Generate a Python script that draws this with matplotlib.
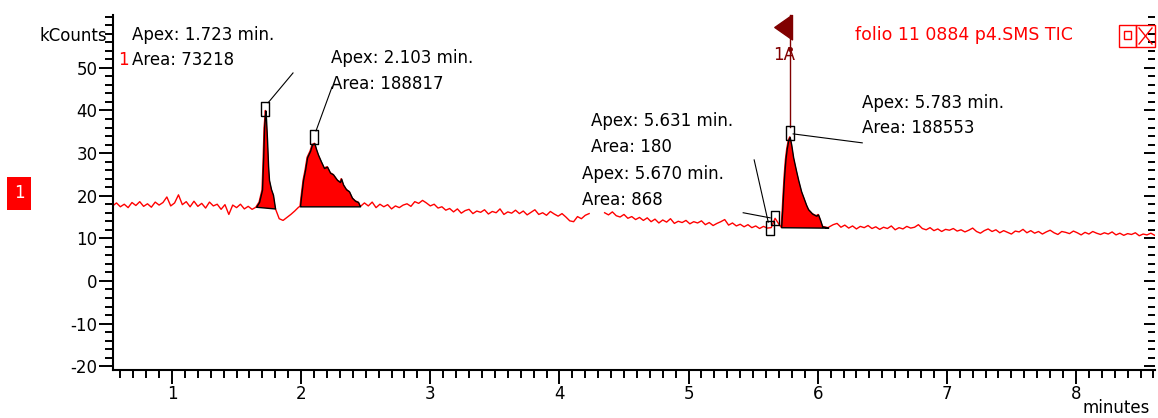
import numpy as np
import matplotlib
matplotlib.use("Agg")
import matplotlib.pyplot as plt
from matplotlib.ticker import MultipleLocator, FixedLocator
from matplotlib.patches import Rectangle
from matplotlib.lines import Line2D

# baseline TIC trace, kCounts, sampled every 0.03 min from 0.54 min
# (values under the peak windows are hidden by the peak lists below)
t_start = 0.54
t_step = 0.03
baseline = [
    17.6, 18.3, 17.4, 18.0, 17.2, 18.4, 17.7, 18.6, 17.5, 18.1,
    17.3, 18.5, 17.8, 18.4, 19.7, 17.6, 18.3, 20.2, 17.9, 18.6,
    17.4, 18.7, 17.5, 18.2, 17.1, 18.5, 17.6, 18.0, 16.8, 17.9,
    15.6, 17.8, 17.2, 18.0, 16.9, 17.5, 16.8,
    17.3, 17.4, 17.4, 17.4, 17.4, 17.0,
    14.6, 14.2, 14.9, 15.6, 16.4, 17.3,
    17.5, 17.5, 17.5, 17.5, 17.5, 17.5, 17.5, 17.5,
    17.5, 17.5, 17.5, 17.5, 17.5, 17.5, 17.5, 17.5,
    18.3, 17.6, 18.5, 17.2, 18.0, 17.4, 17.9, 16.9, 17.6, 17.2,
    17.8, 18.1, 17.5, 18.6, 18.2, 18.9, 18.3, 17.6, 18.0, 17.1,
    17.4, 16.6, 17.0, 16.2, 16.9, 15.9, 16.5, 16.8, 15.8, 16.4,
    16.1, 16.7, 15.7, 16.3, 16.0, 16.9, 15.6, 16.2, 15.9, 16.6,
    15.8, 16.4, 15.5, 16.1, 16.7, 15.6, 16.0, 15.4, 16.3, 15.7,
    15.2, 15.8, 15.0, 14.1, 13.9, 15.1, 14.6, 15.4, 15.8,
    np.nan, np.nan, np.nan,
    16.0, 15.5, 16.2, 15.3, 15.0, 15.6, 14.7, 15.1, 14.4, 14.9,
    14.2, 14.8, 13.9, 14.5, 13.6, 14.3, 13.8, 14.6, 13.5, 14.0,
    13.7, 14.2, 13.4, 13.9, 13.6, 14.1, 13.2, 13.7, 13.0, 13.5,
    13.9, 14.4, 13.1, 13.6, 12.9, 13.3, 12.7, 13.2, 12.5, 12.9, 12.3, 12.8, 12.4,
    12.5, 14.7, 13.3,
    12.5, 12.5, 12.5, 12.5, 12.5, 12.5, 12.5, 12.5, 12.5, 12.5, 12.5, 12.5,
    12.7, 13.2,
    13.5, 12.6, 13.1, 12.4, 12.9, 12.2, 12.8, 12.5, 13.0, 12.3,
    12.7, 12.1, 12.6, 12.3, 12.9, 12.0, 12.5, 12.2, 12.8, 12.4,
    12.6, 13.2, 12.3, 12.0, 12.5, 11.8, 12.2, 11.6, 12.1, 11.9,
    12.3, 11.7, 12.0, 11.5, 11.9, 12.4, 11.6, 11.2, 11.8, 12.2,
    11.6, 12.0, 11.3, 11.8, 11.4, 11.0, 11.7, 11.5, 12.1, 11.3,
    11.8, 11.2, 11.6, 11.0, 11.5, 11.9, 11.3, 10.9, 11.6, 11.4,
    11.1, 11.7, 11.3, 10.8, 11.4, 11.0, 11.6, 11.2, 10.9, 11.3,
    11.0, 11.5, 10.8, 11.2, 10.7, 11.1, 10.9, 11.3, 10.6, 11.0, 10.8, 11.2, 10.7,
]

# integrated peaks (time in min, kCounts)
peak1_t = [1.651, 1.674, 1.697, 1.705, 1.713, 1.723, 1.728, 1.736, 1.744,
           1.751, 1.767, 1.782, 1.798]
peak1_v = [17.4, 18.5, 21.4, 28.0, 36.0, 40.0, 38.0, 33.0, 27.0,
           23.7, 21.5, 20.2, 17.0]

peak2_t = [1.991, 1.999, 2.015, 2.030, 2.046, 2.069, 2.084, 2.103, 2.115,
           2.131, 2.154, 2.177, 2.201, 2.224, 2.247, 2.278, 2.301, 2.310,
           2.325, 2.348, 2.371, 2.394, 2.418, 2.441, 2.456]
peak2_v = [17.5, 19.7, 23.7, 26.0, 29.0, 30.5, 32.0, 32.3, 31.0,
           29.6, 28.0, 26.5, 26.8, 25.4, 25.0, 23.7, 23.2, 24.0,
           22.6, 21.5, 21.0, 19.5, 18.8, 18.5, 17.5]

peak5_t = [5.717, 5.725, 5.733, 5.741, 5.750, 5.760, 5.772, 5.783, 5.795,
           5.810, 5.833, 5.849, 5.872, 5.888, 5.911, 5.926, 5.957, 5.988,
           6.003, 6.019, 6.035, 6.081]
peak5_v = [12.6, 16.5, 21.0, 25.0, 28.5, 31.0, 33.0, 33.8, 32.0,
           29.0, 25.8, 23.7, 21.0, 19.7, 17.8, 16.8, 15.8, 15.3,
           15.6, 14.3, 12.8, 12.5]

# peak labels
apex_times = [1.723, 2.103, 5.631, 5.670, 5.783]
apex_boxes = [40.3, 33.8, 12.4, 14.8, 34.6]
areas = [73218, 188817, 180, 868, 188553]
label_pos = [(0.690, 54.8), (2.232, 49.3), (4.246, 34.4), (4.176, 22.1), (6.345, 38.8)]
leader_from = [(1.744, 41.8), (2.115, 35.2), (5.617, 13.8), (5.632, 14.8), (5.810, 34.5)]
leader_to = [(1.937, 48.8), (2.239, 45.5), (5.508, 28.4), (5.423, 16.0), (6.345, 32.4)]

RED = '#ff0000'
DARKRED = '#800000'
plt.rcParams['font.family'] = ['DejaVu Sans']
plt.rcParams['axes.unicode_minus'] = False

W, H = 1158, 418
fig = plt.figure(figsize=(W / 100, H / 100), dpi=100)
ax = fig.add_axes([113 / W, 1 - 370 / H, (1155 - 113) / W, (370 - 15) / H])
ax.set_xlim(0.543, 8.612)
ax.set_ylim(-20.9, 62.4)

# build the full trace
base_t = t_start + t_step * np.arange(len(baseline))
base_v = np.array(baseline, dtype=float)
keep = np.ones(len(base_t), dtype=bool)
peaks = [(peak1_t, peak1_v), (peak2_t, peak2_v), (peak5_t, peak5_v)]
for pt, pv in peaks:
    keep &= ~((base_t >= pt[0]) & (base_t <= pt[-1]))
all_t = np.concatenate([base_t[keep]] + [np.array(p[0]) for p in peaks])
all_v = np.concatenate([base_v[keep]] + [np.array(p[1]) for p in peaks])
order = np.argsort(all_t)
ax.plot(all_t[order], all_v[order], color=RED, lw=1.0, zorder=2)

for pt, pv in peaks:
    pt = np.array(pt)
    pv = np.array(pv)
    base = np.interp(pt, [pt[0], pt[-1]], [pv[0], pv[-1]])
    ax.fill_between(pt, pv, base, facecolor=RED, edgecolor='black',
                    linewidth=1.0, zorder=3)

# apex boxes
box = [(-0.3, -0.5), (0.3, -0.5), (0.3, 0.5), (-0.3, 0.5), (-0.3, -0.5)]
ax.plot(apex_times, apex_boxes, linestyle='none', marker=box, markersize=9.5,
        markerfacecolor='none', markeredgecolor='black', markeredgewidth=1.0,
        zorder=5)

for i in range(len(apex_times)):
    ax.text(label_pos[i][0], label_pos[i][1],
            'Apex: %.3f min.\nArea: %d' % (apex_times[i], areas[i]),
            ha='left', va='center', fontsize=12, linespacing=1.55, zorder=6)
    ax.plot([leader_from[i][0], leader_to[i][0]],
            [leader_from[i][1], leader_to[i][1]], color='black', lw=0.8, zorder=4)

# flag at the main peak
ax.plot([apex_times[4], apex_times[4]], [62.4, apex_boxes[4] + 1.5],
        color=DARKRED, lw=1.0, zorder=4, clip_on=False)
flag = [(0, 0.7), (0, -0.7), (-1, 0), (0, 0.7)]
ax.plot([apex_times[4] + 0.02], [59.5], marker=flag, markersize=25.5,
        color=DARKRED, linestyle='none', clip_on=False, zorder=5)
ax.plot([apex_times[4]], [54.5], marker='o', markersize=2.5, color=DARKRED,
        linestyle='none', zorder=5)
ax.text(5.741, 53.0, '1A', color=DARKRED, fontsize=12, ha='center', va='center')

ax.text(0.626, 51.9, '1', color=RED, fontsize=12, ha='center', va='center')

# axes styling
for side in ['top', 'right']:
    ax.spines[side].set_visible(False)
for side in ['left', 'bottom']:
    ax.spines[side].set_linewidth(1.5)
ax.xaxis.set_major_locator(MultipleLocator(1))
ax.xaxis.set_minor_locator(MultipleLocator(0.1))
ax.yaxis.set_major_locator(FixedLocator([-20, -10, 0, 10, 20, 30, 40, 50]))
ax.yaxis.set_minor_locator(MultipleLocator(2))
ax.tick_params(which='major', direction='out', length=10, width=1.4,
               labelsize=12, pad=1)
ax.tick_params(which='minor', direction='out', length=6, width=1.4)

ax2 = ax.twinx()
ax2.set_ylim(ax.get_ylim())
ax2.yaxis.set_major_locator(FixedLocator([-20, -10, 0, 10, 20, 30, 40, 50]))
ax2.yaxis.set_minor_locator(MultipleLocator(2))
ax2.tick_params(which='major', direction='in', length=8, width=1.4, labelright=False)
ax2.tick_params(which='minor', direction='in', length=5, width=1.4)
for s in ax2.spines.values():
    s.set_visible(False)

ax.text(-0.006, 0.941, 'kCounts', transform=ax.transAxes, ha='right',
        va='center', fontsize=12)
ax.text(0.995, -0.107, 'minutes', transform=ax.transAxes, ha='right',
        va='center', fontsize=12)
ax.text(0.712, 0.944, 'folio 11 0884 p4.SMS TIC', transform=ax.transAxes,
        ha='left', va='center', fontsize=12.5, color=RED)


def fig_rect(x0, y0, x1, y1, **kw):
    fig.add_artist(Rectangle((x0 / W, 1 - y1 / H), (x1 - x0) / W, (y1 - y0) / H,
                             transform=fig.transFigure, **kw))


def fig_line(x0, y0, x1, y1, **kw):
    fig.add_artist(Line2D([x0 / W, x1 / W], [1 - y0 / H, 1 - y1 / H],
                          transform=fig.transFigure, **kw))


# window icons top right
fig_rect(1119, 25, 1136, 47, facecolor='none', edgecolor=RED, lw=1.0)
fig_rect(1124, 31, 1131, 39, facecolor='none', edgecolor=RED, lw=1.0)
fig_rect(1136, 25, 1155, 47, facecolor='none', edgecolor=RED, lw=1.0)
fig_line(1139, 28, 1152, 44, color=RED, lw=1.0)
fig_line(1152, 28, 1139, 44, color=RED, lw=1.0)

# trace tag on the left
fig_rect(7, 177, 31, 210, facecolor=RED, edgecolor='none')
fig.text(19 / W, 1 - 193 / H, '1', color='white', fontsize=12, ha='center', va='center')

fig.savefig('out.png', dpi=100)
